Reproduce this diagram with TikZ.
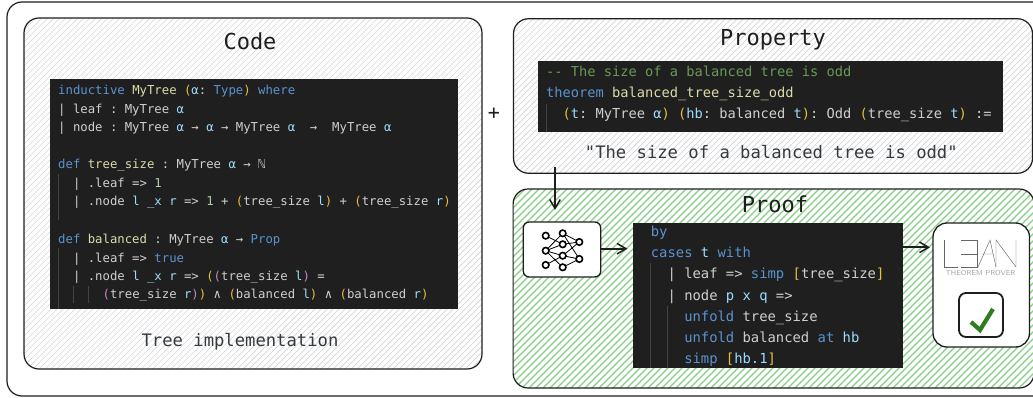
\documentclass[tikz,border=0pt]{standalone}
\usepackage{fontspec}
\usetikzlibrary{arrows.meta,calc}
\setmonofont{DejaVu Sans Mono}
\frenchspacing
\definecolor{bgdark}{HTML}{1F1F1F}
\definecolor{kw}{HTML}{5A93D0}
\definecolor{fn}{HTML}{DCDCAA}
\definecolor{par}{HTML}{E9BE3C}
\definecolor{pur}{HTML}{C586C0}
\definecolor{var}{HTML}{9CDCFE}
\definecolor{txt}{HTML}{CFCFCF}
\definecolor{numc}{HTML}{B5CEA8}
\definecolor{com}{HTML}{6A9955}
\definecolor{guide}{HTML}{444444}
\definecolor{ink}{HTML}{1E1E1E}
\definecolor{label}{HTML}{343A40}
\definecolor{hatchg}{HTML}{D4D6DA}
\definecolor{hatchv}{HTML}{86CE86}
\definecolor{okgreen}{HTML}{2F7D1F}
\newcommand{\K}[1]{\textcolor{kw}{#1}}
\newcommand{\F}[1]{\textcolor{fn}{#1}}
\newcommand{\Pn}[1]{\textcolor{par}{#1}}
\newcommand{\Pu}[1]{\textcolor{pur}{#1}}
\newcommand{\V}[1]{\textcolor{var}{#1}}
\newcommand{\N}[1]{\textcolor{numc}{#1}}
\newcommand{\hatchbox}[3]{%
  \begin{scope}
    \clip[rounded corners=15] (#1.south west) rectangle (#1.north east);
    \foreach \c in {0,#3,...,1500}{\draw[#2] (\c,0) -- (\c-420,420);}
  \end{scope}
  \draw[frame] (#1.south west) rectangle (#1.north east);}
\tikzset{
  x=1pt,y=-1pt,
  frame/.style={draw=ink,line width=1.2pt,rounded corners=15},
  area/.style={rectangle,minimum size=0pt,inner sep=0pt,outer sep=0pt},
  dark/.style={rectangle,fill=bgdark,inner sep=0pt,outer sep=0pt},
  whitebox/.style={rectangle,draw=ink,fill=white,line width=1.3pt,inner sep=0pt,outer sep=0pt},
  grayhatch/.style={draw=hatchg,line width=0.7pt},
  greenhatch/.style={draw=hatchv,line width=1.1pt},
  title/.style={anchor=base,text=ink,font=\ttfamily\fontsize{22}{24}\selectfont,inner sep=0pt},
  caption/.style={anchor=base,text=label,font=\ttfamily\fontsize{17.2}{20}\selectfont,inner sep=0pt},
  codeA/.style={anchor=base west,inner sep=0pt,text=txt,font=\ttfamily\fontsize{12.3}{14}\selectfont},
  codeB/.style={anchor=base west,inner sep=0pt,text=txt,font=\ttfamily\fontsize{13.7}{15}\selectfont},
  codeC/.style={anchor=base west,inner sep=0pt,text=txt,font=\ttfamily\fontsize{13.85}{15}\selectfont},
  indent/.style={draw=guide,line width=0.7pt},
  arr/.style={draw=ink,line width=1.7pt,-{Straight Barb[length=9pt,width=10.5pt,line width=1.5pt]}},
  nn/.style={circle,draw=black,fill=white,line width=1.6pt,minimum size=6.5pt,inner sep=0pt},
  nnedge/.style={draw=black,line width=0.8pt},
  logoline/.style={draw=black!60,line width=0.45pt},
}
\begin{document}
\begin{tikzpicture}
\useasboundingbox (0,0) rectangle (1033,398);
\clip (0,0) rectangle (1033,398);
\fill[white] (0,0) rectangle (1033,398);
% outer frame
\node[area,minimum width=1043pt,minimum height=394pt] (outer) at (528.5,199) {};
\draw[draw=ink,line width=1.2pt,rounded corners=15] (outer.south west) rectangle (outer.north east);
% panels
\node[area,minimum width=458pt,minimum height=351pt] (code) at (253,193.5) {};
\hatchbox{code}{grayhatch}{6}
\node[area,minimum width=519pt,minimum height=154.5pt] (prop) at (773,96) {};
\hatchbox{prop}{grayhatch}{6}
\node[area,minimum width=521pt,minimum height=199pt] (proof) at (773.6,288.5) {};
\hatchbox{proof}{greenhatch}{7}
% titles
\node[title] (tcode) at (250,50) {Code};
\node[title] (tprop) at (773,46) {Property};
\node[title] (tproof) at (775,213) {Proof};
\node[caption] (capcode) at (240,346) {Tree implementation};
\node[caption] (capprop) at (771.3,159) {"The size of a balanced tree is odd"};
\node[text=ink,font=\ttfamily\fontsize{20}{20}\selectfont,inner sep=0pt] (plus) at (494,114) {+};
% code block
\node[dark,minimum width=408pt,minimum height=230pt] (dcode) at (254,194) {};
\draw[indent] (58.5,174) -- (58.5,220) (58.5,248) -- (58.5,309);
\draw[indent] (73,286) -- (73,303) (88,286) -- (88,303);
\node[codeA] (c1) at (58,95) {\K{inductive} \F{MyTree} \Pn{(}\V{α}: \K{Type}\Pn{)} \K{where}};
\node[codeA] (c2) at (58,113.5) {| leaf : MyTree \V{α}};
\node[codeA] (c3) at (58,132) {| node : MyTree \V{α} → \V{α} → MyTree \V{α} ~→ ~MyTree \V{α}};
\node[codeA] (c5) at (58,169) {\K{def} \F{tree\_size} : MyTree \V{α} → ℕ};
\node[codeA] (c6) at (58,187.5) {~~| .leaf => \N{1}};
\node[codeA] (c7) at (58,206) {~~| .node \V{l} \V{\_x} \V{r} => \N{1} + \Pn{(}tree\_size \V{l}\Pn{)} + \Pn{(}tree\_size \V{r}\Pn{)}};
\node[codeA] (c9) at (58,243.5) {\K{def} \F{balanced} : MyTree \V{α} → \K{Prop}};
\node[codeA] (c10) at (58,262) {~~| .leaf => \K{true}};
\node[codeA] (c11) at (58,280.5) {~~| .node \V{l} \V{\_x} \V{r} => \Pn{(}\Pu{(}tree\_size \V{l}\Pu{)} =};
\node[codeA] (c12) at (58,298.5) {~~~~~~\Pu{(}tree\_size \V{r}\Pu{)}\Pn{)} ∧ \Pn{(}balanced \V{l}\Pn{)} ∧ \Pn{(}balanced \V{r}\Pn{)}};
% property block
\node[dark,minimum width=464.4pt,minimum height=71pt] (dprop) at (770.5,96.2) {};
\draw[indent] (546.7,104) -- (546.7,131.7);
\node[codeB,text=com] (p1) at (546,77) {-{}- The size of a balanced tree is odd};
\node[codeB] (p2) at (546,97.7) {\K{theorem} \F{balanced\_tree\_size\_odd}};
\node[codeB] (p3) at (546,118.3) {~~\Pn{(}\V{t}: MyTree \V{α}\Pn{)} \Pn{(}\V{hb}: balanced \V{t}\Pn{)}: Odd \Pn{(}tree\_size \V{t}\Pn{)} :=};
% proof block
\node[dark,minimum width=269.7pt,minimum height=144.7pt] (dproof) at (767.85,295.35) {};
\draw[indent] (650.7,263) -- (650.7,367.7) (667.3,305.7) -- (667.3,367.7);
\node[codeC] (q1) at (650.7,236.7) {\K{by}};
\node[codeC] (q2) at (650.7,257.7) {\K{cases} \V{t} \K{with}};
\node[codeC] (q3) at (650.7,278.7) {~~| leaf => \K{simp} \Pn{[}tree\_size\Pn{]}};
\node[codeC] (q4) at (650.7,300) {~~| node \V{p} \V{x} \V{q} =>};
\node[codeC] (q5) at (650.7,321) {~~~~\K{unfold} tree\_size};
\node[codeC] (q6) at (650.7,342) {~~~~\K{unfold} balanced \K{at} \V{hb}};
\node[codeC] (q7) at (650.7,363) {~~~~\K{simp} \Pn{[}\V{hb.1}\Pn{]}};
% network icon box
\node[whitebox,rounded corners=6,minimum width=77.5pt,minimum height=55pt] (nnbox) at (562,249.5) {};
\coordinate (a1) at (545.7,235.7);
\coordinate (a2) at (545.7,250.7);
\coordinate (a3) at (545.7,265);
\coordinate (b1) at (562.7,233.3);
\coordinate (b2) at (562.7,244.3);
\coordinate (b3) at (562.7,255.7);
\coordinate (b4) at (562.7,267.3);
\coordinate (c1n) at (579.3,242);
\coordinate (c2n) at (579.3,259);
\draw[nnedge] (a1) -- (b2) (a2) -- (b1) (a2) -- (b2) (a2) -- (b3) (a2) -- (b4) (a3) -- (b3)
  (b1) -- (c1n) (b1) -- (c2n) (b2) -- (c1n) (b3) -- (c1n) (b3) -- (c2n) (b4) -- (c2n);
\foreach \n in {a1,a2,a3,b1,b2,b3,b4,c1n,c2n}{\node[nn] at (\n) {};}
% lean box
\node[whitebox,rounded corners=14,minimum width=96.5pt,minimum height=124pt] (lean) at (981.25,285) {};
\node[inner sep=0pt,text=black!35,font=\fontsize{7.2}{8}\selectfont\sffamily] (leantext) at (980.5,273.5) {THEOREM PROVER};
\draw[logoline] (944.3,240) -- (944.3,267) -- (958,267);
\draw[logoline] (961,240) -- (977,240) -- (977,267) -- (961,267) (961,254) -- (977,254);
\draw[logoline] (978,267) -- (990,240) -- (996,267) (982,254) -- (993,254);
\draw[logoline] (996,267) -- (996,240) -- (1016,267) -- (1016,240);
\node[whitebox,rounded corners=7,line width=1.8pt,minimum width=44pt,minimum height=44pt] (chk) at (981,315) {};
\draw[draw=okgreen,line width=4.2pt] ($(chk)+(-10,7)$) -- ($(chk)+(-1,15)$) -- ($(chk)+(12,-6)$);
% connectors
\coordinate (s1) at (555,167);
\draw[arr,shorten >=12pt] (s1) -- (s1 |- nnbox.north);
\coordinate (s3) at (nnbox.east |- 0,248.7);
\draw[arr,shorten >=5.5pt] (s3) -- (s3 -| dproof.west);
\coordinate (s2) at (dproof.east |- 0,247.3);
\draw[arr,shorten >=3pt] (s2) -- (s2 -| lean.west);
\end{tikzpicture}
\end{document}
